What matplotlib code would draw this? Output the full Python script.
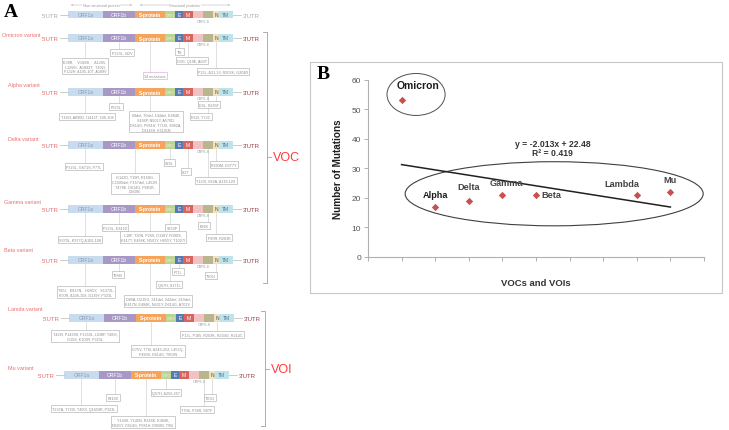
import numpy as np
import matplotlib.pyplot as plt
from matplotlib.patches import Rectangle, Ellipse

# ---------------- panel B data ----------------
variant_names = ['Omicron', 'Alpha', 'Delta', 'Gamma', 'Beta', 'Lambda', 'Mu']
variant_x = [1, 2, 3, 4, 5, 8, 9]
mutation_counts = [53, 17, 19, 21, 21, 21, 22]
equation_text = 'y = -2.013x + 22.48\nR² = 0.419'

# ---------------- panel A data ----------------
genes = ['ORF1a', 'ORF1b', 'S-protein', 'ORF3', 'E', 'M', 'ORF6', 'ORF8', 'N', 'TM']
gene_labels = ['ORF1a', 'ORF1b', 'S-protein', 'ORF3', 'E', 'M', '', '', 'N', 'TM']

row_titles = ['', 'Omicron variant', 'Alpha variant', 'Delta variant', 'Gamma variant',
              'Beta variant', 'Lamda variant', 'Mu variant']

omicron_muts = [
    ('ORF1a', 'K38R,    V1069I,    Δ1265,\nL1266I,  A1892T,  T492I,\nP132H, Δ105-107, A189V'),
    ('ORF1b', 'P323L, I42V'),
    ('S-protein', '34 mutations'),
    ('E', 'T9I'),
    ('M', 'D3G, Q19E, A63T'),
    ('N', 'P13L, Δ31-33, R203K, G204R'),
]
alpha_muts = [
    ('ORF1b', 'P323L'),
    ('ORF1a', 'T183I, A890D, I1412T, 106-108'),
    ('S-protein', '69del, 70del, 144del, E484K,\nS494P, N501Y, A570D,\nD614G, P681H, T716I, S982A,\nD1118H, K1191N'),
    ('N', 'D3L, S235F'),
    ('ORF8', 'R52I, Y73C'),
]
delta_muts = [
    ('ORF1a', 'P323L, G671S, P77L'),
    ('S-protein', 'G142D, T19R, R158G,\nC1500del, F157del, L452R,\nT478K, D614G, P681R,\nD950N'),
    ('ORF3', 'S26L'),
    ('M', 'I82T'),
    ('N', 'R203M, D377Y'),
    ('ORF8', 'T120I, V82A, Δ119-120'),
]
gamma_muts = [
    ('ORF1b', 'P323L, E341D'),
    ('ORF1a', 'S370L, K977Q,Δ106-108'),
    ('S-protein', 'L18F, T20N, P26S, D138Y, R190S,\nK417T, E484K, N501Y, H655Y, T1027I'),
    ('ORF3', 'S253P'),
    ('ORF8', 'E92K'),
    ('N', 'P80R, R203K'),
]
beta_muts = [
    ('ORF1b', 'T588I'),
    ('E', 'P71L'),
    ('N', 'T205I'),
    ('ORF3', 'Q57H, S171L'),
    ('ORF1a', 'T85I,   K837N,   H265Y,   S1372L,\nK90R, Δ106-108, D139Y, P323L'),
    ('S-protein', 'D80A, D215G, 241del, 242del, 243del,\nK417N, E484K, N501Y, D614G, A701V'),
]
lambda_muts = [
    ('ORF1a', 'T428I, P1469S, F1359L, L638P, T489I,\nG15S, K109R, P323L'),
    ('N', 'P13L, P185, R203K, R204G, R214C'),
    ('S-protein', 'G75V, T76I, Δ246-252, L452Q,\nF490S, D614G, T859N'),
]
mu_muts = [
    ('ORF1b', 'P4100'),
    ('ORF3', 'Q57H, Δ256-257'),
    ('N', 'T205I'),
    ('ORF8', 'T75K, P38S, S67F'),
    ('ORF1a', 'T237A, T720I, T460I, Q1659R, P323L'),
    ('S-protein', 'Y144S, Y145N, R346K, E484K,\nN501Y, D614G, P681H, D950N, T95I'),
]
variant_muts = [[], omicron_muts, alpha_muts, delta_muts, gamma_muts,
                beta_muts, lambda_muts, mu_muts]

# ---------------- layout / style for panel A (pixel units) ----------------
gene_widths = [35, 32, 30, 10, 8, 10, 10, 10, 6, 14]
gene_colors = ['#c9dbef', '#a898c6', '#f6a45c', '#b9d494', '#5a7bb0', '#d8635f',
               '#f0c2c2', '#b9b58e', '#eee2c0', '#bde3ec']
gene_text_colors = ['#8a9bb0', '#ffffff', '#ffffff', '#eef5e4', '#ffffff', '#ffffff',
                    '#ffffff', '#ffffff', '#555555', '#5a7a90']
row_bar_y = [15.7, 39, 93, 146, 210, 261, 319, 376]
row_bar_x0 = [68, 68, 68, 68, 68, 68, 69, 64]
row_title_xy = [None, (2, 35.5), (8, 85), (8, 140), (4, 203), (4, 251), (8, 310), (8, 369)]
bar_h = 7.5
# (box centre x, box top y) for every mutation box, same order as the lists above
box_xy = [
    [],
    [(85, 59.5), (122, 51), (155, 74), (179.5, 50), (192, 59), (223, 70)],
    [(116, 105), (87, 115), (156, 113), (209, 103), (201, 115)],
    [(84, 165), (135, 175), (169.5, 161), (186, 170), (224, 163), (216, 179)],
    [(115, 226), (80, 238), (153, 233), (172, 226), (204, 224), (219, 236)],
    [(118, 273), (178, 270), (211, 274), (169, 283), (86, 288), (158, 297)],
    [(85, 332), (212, 333), (158, 347)],
    [(113, 396), (166, 391), (210, 396), (197, 408), (84, 407), (143, 418)],
]

W, H = 729, 431
fig = plt.figure(figsize=(W / 100, H / 100), dpi=100)
ax = fig.add_axes([0, 0, 1, 1])
ax.set_xlim(0, W)
ax.set_ylim(H, 0)
ax.axis('off')

sans = ['Liberation Sans', 'DejaVu Sans']
ax.text(4, 4, 'A', fontsize=14, fontweight='bold', family='Liberation Serif', va='top')

line_grey = '#b8b8b8'
for r, y in enumerate(row_bar_y):
    x0 = row_bar_x0[r]
    edges = np.concatenate([[0], np.cumsum(gene_widths)]) + x0
    centers = (edges[:-1] + edges[1:]) / 2
    for g in range(len(genes)):
        ax.add_patch(Rectangle((edges[g], y - bar_h / 2), gene_widths[g], bar_h,
                               facecolor=gene_colors[g], edgecolor='none'))
        if gene_labels[g]:
            bold = gene_labels[g] == 'S-protein'
            fs = 2.4 if gene_labels[g] == 'ORF3' else 3.6
            ax.text(centers[g], y, gene_labels[g], ha='center', va='center', fontsize=fs,
                    color=gene_text_colors[g], fontweight='bold' if bold else 'normal',
                    family=sans)
    ax.text(edges[7], y + bar_h / 2 + 2.5, 'ORF6-8', fontsize=2.6, color='#999999',
            ha='center', va='center', family=sans)
    utr5 = '#aaaaaa' if r == 0 else '#e07070'
    utr3 = '#aaaaaa' if r == 0 else '#9b3b3b'
    ax.plot([x0 - 8, x0], [y, y], color=line_grey, lw=0.5)
    ax.plot([edges[-1], edges[-1] + 8], [y, y], color=line_grey, lw=0.5)
    ax.text(x0 - 9, y + 0.5, "5'UTR", ha='right', va='center', fontsize=4.3, color=utr5,
            family=sans)
    ax.text(edges[-1] + 9.5, y + 0.5, "3'UTR", ha='left', va='center', fontsize=4.3,
            color=utr3, family=sans)
    if row_title_xy[r]:
        tx, ty = row_title_xy[r]
        ax.text(tx, ty, row_titles[r], fontsize=3.9, color='#ee6d6d', va='center',
                family=sans)
    for (gene, label), (bx, by) in zip(variant_muts[r], box_xy[r]):
        gx = centers[genes.index(gene)]
        cx = gx if abs(gx - bx) < 14 else bx
        ax.plot([cx, cx], [y + bar_h / 2, by], color='#cfcfcf', lw=0.45)
        edge = '#d9a9d9' if label == '34 mutations' else '#b0b0b0'
        ax.text(bx, by + 0.8, label, ha='center', va='top', fontsize=2.7, color='#8c8c8c',
                family=sans, linespacing=1.25,
                bbox=dict(boxstyle='square,pad=0.35', facecolor='white', edgecolor=edge,
                          linewidth=0.45))

# header arrows above the reference genome
ax.annotate('', xy=(68, 6), xytext=(135, 6),
            arrowprops=dict(arrowstyle='<->', color='#bbbbbb', lw=0.4, mutation_scale=3))
ax.annotate('', xy=(137, 6), xytext=(233, 6),
            arrowprops=dict(arrowstyle='<->', color='#bbbbbb', lw=0.4, mutation_scale=3))
for hx, htxt in [(101, 'Non structural protein'), (185, 'Structural proteins')]:
    ax.text(hx, 6, htxt, ha='center', va='center', fontsize=2.8, color='#999999',
            family=sans, bbox=dict(facecolor='white', edgecolor='none', pad=0.3))

# VOC / VOI brackets
for bx, y0, y1, ym, lab in [(267, 33, 284, 158, 'VOC'), (265, 312, 427, 370, 'VOI')]:
    ax.plot([bx - 4, bx, bx, bx - 4], [y0, y0, y1, y1], color='#a0a0a0', lw=0.6)
    ax.plot([bx, bx + 4], [ym, ym], color='#a0a0a0', lw=0.6)
    ax.text(bx + 5.5, ym, lab, fontsize=9, color='#ff3b3b', va='center', family=sans)

# frame around panel B
ax.add_patch(Rectangle((310, 63), 412, 231, facecolor='white', edgecolor='#c8c8c8', lw=0.8))
ax.text(317, 66, 'B', fontsize=14, fontweight='bold', family='Liberation Serif', va='top')

# ---------------- panel B ----------------
bx0, bx1, by0, by1 = 368, 704, 80.7, 258
axb = fig.add_axes([bx0 / W, 1 - by1 / H, (bx1 - bx0) / W, (by1 - by0) / H])
axb.set_xlim(0, 10)
axb.set_ylim(0, 60)
axb.patch.set_alpha(0)
for s in ['top', 'right']:
    axb.spines[s].set_visible(False)
for s in ['left', 'bottom']:
    axb.spines[s].set_color('#b0b0b0')
    axb.spines[s].set_linewidth(0.8)
axb.set_xticks(range(0, 11))
axb.set_xticklabels([])
axb.set_yticks(range(0, 61, 10))
axb.tick_params(axis='both', length=3, width=0.7, color='#b0b0b0', labelsize=6,
                labelcolor='#555555', pad=2)
for t in axb.get_yticklabels():
    t.set_family(sans)

axb.scatter(variant_x, mutation_counts, marker='D', s=14, color='#c9504e', zorder=3,
            linewidths=0)

slope, intercept = np.polyfit(variant_x, mutation_counts, 1)
xs = np.array([min(variant_x), max(variant_x)])
axb.plot(xs, slope * xs + intercept, color='#202020', lw=1.1)

label_offsets = [(12, 11), (0, 9), (0, 10), (3, 9), (4, 0), (-11, 8), (0, 9)]
for name, xv, yv, off in zip(variant_names, variant_x, mutation_counts, label_offsets):
    ha = 'left' if name == 'Beta' else 'center'
    fs = 7.5 if name == 'Omicron' else 6.6
    col = '#1c1c1c' if name in ('Alpha', 'Omicron') else '#454545'
    axb.annotate(name, (xv, yv), xytext=off, textcoords='offset points', ha=ha,
                 va='center', fontsize=fs, fontweight='bold', color=col, family=sans)

axb.add_patch(Ellipse((1.43, 55.0), 1.73, 14.2, facecolor='none', edgecolor='#505050',
                      lw=0.7, clip_on=False))
axb.add_patch(Ellipse((5.54, 21.4), 8.87, 21.7, facecolor='none', edgecolor='#404040',
                      lw=0.8, clip_on=False))

axb.text(5.5, 37, equation_text, ha='center', va='center', fontsize=6.2,
         fontweight='bold', color='#333333', family=sans, linespacing=1.0)
axb.set_xlabel('VOCs and VOIs', fontsize=6.8, fontweight='bold', color='#333333',
               family=sans, labelpad=10)
axb.set_ylabel('Number of Mutations', fontsize=7.2, fontweight='bold', color='#1c1c1c',
               family=sans, labelpad=6)

fig.savefig('out.png', dpi=100)
